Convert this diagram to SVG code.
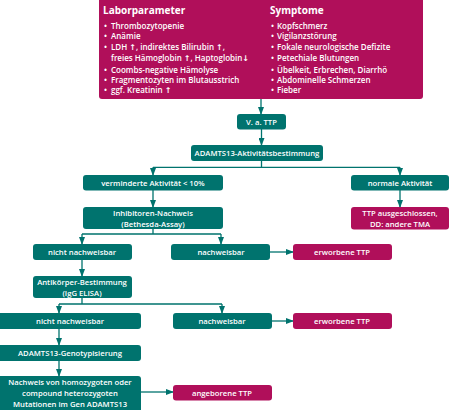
<svg xmlns="http://www.w3.org/2000/svg" width="450" height="410" viewBox="0 0 450 410">
<defs>
<style>
.t{fill:#00736E}
.m{fill:#B00F5A}
.lbl{font-family:"Open Sans","Noto Sans","DejaVu Sans",sans-serif;font-size:7.7px;font-weight:600;fill:#fff;text-anchor:middle}
.li{font-family:"Open Sans","Noto Sans","DejaVu Sans",sans-serif;font-size:8px;font-weight:600;fill:#fff}
.hd{font-family:"Open Sans","Noto Sans","DejaVu Sans",sans-serif;font-size:10px;font-weight:bold;fill:#fff}
.c{fill:none;stroke:#00736E;stroke-width:1.3}
</style>
<marker id="ah" markerUnits="userSpaceOnUse" markerWidth="8" markerHeight="6" refX="7" refY="3" orient="auto" viewBox="0 0 8 6">
<path d="M0,0 L8,3 L0,6 Z" fill="#00736E"/>
</marker>
</defs>
<rect width="450" height="410" fill="#fff"/>

<g id="connectors">
<path class="c" d="M261,99 V114" marker-end="url(#ah)"/>
<path class="c" d="M261.5,129 V145" marker-end="url(#ah)"/>
<path class="c" d="M261.5,161 V167.3 M153,167.3 H400"/>
<path class="c" d="M153,167.3 V175" marker-end="url(#ah)"/>
<path class="c" d="M400,167.3 V175" marker-end="url(#ah)"/>
<path class="c" d="M153,190 V207" marker-end="url(#ah)"/>
<path class="c" d="M400,190 V207" marker-end="url(#ah)"/>
<path class="c" d="M153,229 V234 M82,234 H221"/>
<path class="c" d="M82,234 V244" marker-end="url(#ah)"/>
<path class="c" d="M221,234 V244" marker-end="url(#ah)"/>
<path class="c" d="M270,252 H293" marker-end="url(#ah)"/>
<path class="c" d="M82,260 V276" marker-end="url(#ah)"/>
<path class="c" d="M82,298 V304 M59,304 H222"/>
<path class="c" d="M59,304 V313" marker-end="url(#ah)"/>
<path class="c" d="M222,304 V313" marker-end="url(#ah)"/>
<path class="c" d="M272,321 H293" marker-end="url(#ah)"/>
<path class="c" d="M59,329 V345" marker-end="url(#ah)"/>
<path class="c" d="M59,361 V376" marker-end="url(#ah)"/>
<path class="c" d="M141,392 H173" marker-end="url(#ah)"/>
</g>

<g id="top">
<rect class="m" x="99" y="-4" width="324" height="103" rx="3"/>
<text class="hd" x="103" y="14">Laborparameter</text>
<text class="li" x="104" y="29">•<tspan x="111">Thrombozytopenie</tspan></text>
<text class="li" x="104" y="39">•<tspan x="111">Anämie</tspan></text>
<text class="li" x="104" y="49.5">•<tspan x="111">LDH ↑, indirektes Bilirubin ↑,</tspan></text>
<text class="li" x="111" y="61">freies Hämoglobin ↑, Haptoglobin↓</text>
<text class="li" x="104" y="72.5">•<tspan x="111">Coombs-negative Hämolyse</tspan></text>
<text class="li" x="104" y="83">•<tspan x="111">Fragmentozyten im Blutausstrich</tspan></text>
<text class="li" x="104" y="93">•<tspan x="111">ggf. Kreatinin ↑</tspan></text>
<text class="hd" x="270" y="14">Symptome</text>
<text class="li" x="271" y="29">•<tspan x="277">Kopfschmerz</tspan></text>
<text class="li" x="271" y="39">•<tspan x="277">Vigilanzstörung</tspan></text>
<text class="li" x="271" y="49.5">•<tspan x="277">Fokale neurologische Defizite</tspan></text>
<text class="li" x="271" y="61">•<tspan x="277">Petechiale Blutungen</tspan></text>
<text class="li" x="271" y="72.5">•<tspan x="277">Übelkeit, Erbrechen, Diarrhö</tspan></text>
<text class="li" x="271" y="83">•<tspan x="277">Abdominelle Schmerzen</tspan></text>
<text class="li" x="271" y="93">•<tspan x="277">Fieber</tspan></text>
</g>

<g id="vatp"><rect class="t" x="237" y="114" width="49" height="15.5" rx="3"/><text class="lbl" x="261.5" y="124.8">V. a. TTP</text></g>
<g id="adamts"><rect class="t" x="191" y="145" width="132" height="16" rx="3"/><text class="lbl" x="257" y="156">ADAMTS13-Aktivitätsbestimmung</text></g>
<g id="vermindert"><rect class="t" x="83" y="175" width="140" height="15.5" rx="3"/><text class="lbl" x="153" y="185.5">verminderte Aktivität &lt; 10%</text></g>
<g id="normal"><rect class="t" x="351" y="175" width="98" height="15.5" rx="3"/><text class="lbl" x="400" y="185.5">normale Aktivität</text></g>
<g id="inhib"><rect class="t" x="83" y="207" width="140" height="22" rx="3"/><text class="lbl" x="153" y="216.3">Inhibitoren-Nachweis</text><text class="lbl" x="153" y="227">(Bethesda-Assay)</text></g>
<g id="ausgeschl"><rect class="m" x="351" y="207" width="98" height="22.5" rx="3"/><text class="lbl" x="400" y="216.3">TTP ausgeschlossen,</text><text class="lbl" x="400" y="227">DD: andere TMA</text></g>
<g id="nicht1"><rect class="t" x="33" y="244" width="99" height="16" rx="3"/><text class="lbl" x="82" y="255">nicht nachweisbar</text></g>
<g id="nachw1"><rect class="t" x="171" y="244" width="99" height="16" rx="3"/><text class="lbl" x="221" y="255">nachweisbar</text></g>
<g id="erworben1"><rect class="m" x="293" y="244" width="99" height="16" rx="3"/><text class="lbl" x="342" y="255">erworbene TTP</text></g>
<g id="antik"><rect class="t" x="33" y="276" width="99" height="22" rx="3"/><text class="lbl" x="82" y="285">Antikörper-Bestimmung</text><text class="lbl" x="82" y="295.5">(IgG ELISA)</text></g>
<g id="nicht2"><rect class="t" x="-3" y="313" width="144" height="16" rx="3"/><text class="lbl" x="70" y="324">nicht nachweisbar</text></g>
<g id="nachw2"><rect class="t" x="173" y="313" width="99" height="16" rx="3"/><text class="lbl" x="222" y="324">nachweisbar</text></g>
<g id="erworben2"><rect class="m" x="293" y="313" width="99" height="16" rx="3"/><text class="lbl" x="342" y="324">erworbene TTP</text></g>
<g id="geno"><rect class="t" x="-3" y="345" width="144" height="16" rx="3"/><text class="lbl" x="70" y="356">ADAMTS13-Genotypisierung</text></g>
<g id="nachweis"><rect class="t" x="-3" y="376" width="144" height="37" rx="3"/><text class="lbl" x="70" y="384.5">Nachweis von homozygoten oder</text><text class="lbl" x="70" y="396">compound heterozygoten</text><text class="lbl" x="70" y="407">Mutationen im Gen ADAMTS13</text></g>
<g id="angeboren"><rect class="m" x="173" y="385" width="99" height="15.5" rx="3"/><text class="lbl" x="222" y="395.5">angeborene TTP</text></g>
</svg>
